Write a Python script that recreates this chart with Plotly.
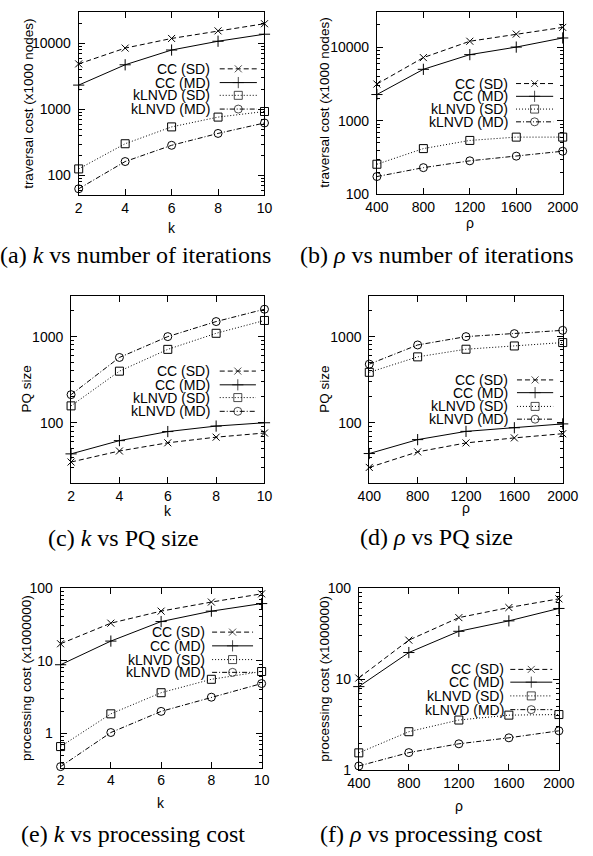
import math
import plotly.graph_objects as go

W, H = 593, 856

# ---------------- data ----------------
k_vals = [2, 4, 6, 8, 10]
rho_vals = [400, 800, 1200, 1600, 2000]
series_names = ["CC (SD)", "CC (MD)", "kLNVD (SD)", "kLNVD (MD)"]

# (a) k vs traversal cost (x1000 nodes)
a_cc_sd = [4900, 8500, 11900, 15500, 19900]
a_cc_md = [2340, 4750, 7950, 10800, 13800]
a_kl_sd = [126, 303, 545, 767, 933]
a_kl_md = [63, 163, 287, 434, 625]
# (b) rho vs traversal cost
b_cc_sd = [3150, 7200, 12000, 15000, 18500]
b_cc_md = [2270, 4990, 7900, 10000, 13300]
b_kl_sd = [257, 419, 541, 600, 600]
b_kl_md = [175, 231, 286, 331, 386]
# (c) k vs PQ size
c_cc_sd = [35, 47, 58.5, 68, 76]
c_cc_md = [43.5, 62, 79, 91.5, 100]
c_kl_sd = [157, 397, 711, 1093, 1540]
c_kl_md = [212, 573, 1000, 1496, 2080]
# (d) rho vs PQ size
d_cc_sd = [30.3, 45.9, 58.3, 66.7, 74.6]
d_cc_md = [43.9, 63.7, 79.4, 87.5, 97]
d_kl_sd = [385, 582, 714, 779, 853]
d_kl_md = [479, 800, 1000, 1083, 1183]
# (e) k vs processing cost (x1000000)
e_cc_sd = [17.1, 32.8, 48, 64, 83]
e_cc_md = [8.8, 18.6, 34.5, 48, 61]
e_kl_sd = [0.66, 1.86, 3.63, 5.55, 7.1]
e_kl_md = [0.35, 1.03, 2.01, 3.15, 4.85]
# (f) rho vs processing cost
f_cc_sd = [10.3, 26.8, 47.3, 61, 76]
f_cc_md = [8.3, 19.6, 33.5, 43.6, 59.6]
f_kl_sd = [1.56, 2.66, 3.57, 4.04, 4.1]
f_kl_md = [1.12, 1.57, 1.96, 2.28, 2.72]

y_tick_a = [100, 1000, 10000]
y_tick_c = [100, 1000]
y_tick_e = [1, 10, 100]

# ---------------- styles ----------------
styles = [
    dict(dash="5px,3px", symbol="x-thin", size=7),
    dict(dash="solid", symbol="cross-thin", size=8),
    dict(dash="1px,2px", symbol="square-open", size=8),
    dict(dash="5px,2px,1px,2px", symbol="circle-open", size=8),
]
SANS = "Liberation Sans"
SERIF = "Liberation Serif"
FS = 14

panels = [
    dict(x=k_vals, ys=[a_cc_sd, a_cc_md, a_kl_sd, a_kl_md], frame=(70, 265, 4, 191),
         yr=(50, 30000), yt=y_tick_a, ytitle="traversal cost (x1000 nodes)", xtitle="k",
         ytx=17, xty=224, key=(210, [62, 76, 89, 103], 218, 257),
         cap="(a) <i>k</i> vs number of iterations", capx=130, capy=252),
    dict(x=rho_vals, ys=[b_cc_sd, b_cc_md, b_kl_sd, b_kl_md], frame=(383, 578, 4, 190),
         yr=(100, 30000), yt=y_tick_a, ytitle="traversal cost (x1000 nodes)", xtitle="ρ",
         ytx=328, xty=219, key=(523, [77, 90, 103, 116], 529, 568),
         cap="(b) <i>ρ</i> vs number of iterations", capx=446, capy=252),
    dict(x=k_vals, ys=[c_cc_sd, c_cc_md, c_kl_sd, c_kl_md], frame=(62, 265, 293, 484),
         yr=(20, 3000), yt=y_tick_c, ytitle="PQ size", xtitle="k",
         ytx=15, xty=513, key=(210, [370, 384, 397, 411], 218, 256),
         cap="(c) <i>k</i> vs PQ size", capx=117, capy=540),
    dict(x=rho_vals, ys=[d_cc_sd, d_cc_md, d_kl_sd, d_kl_md], frame=(375, 578, 293, 484),
         yr=(20, 3000), yt=y_tick_c, ytitle="PQ size", xtitle="ρ",
         ytx=328, xty=510, key=(523, [379, 392, 406, 419], 530, 568),
         cap="(d) <i>ρ</i> vs PQ size", capx=446, capy=539),
    dict(x=k_vals, ys=[e_cc_sd, e_cc_md, e_kl_sd, e_kl_md], frame=(51, 262, 591, 774),
         yr=(0.34, 100), yt=y_tick_e, ytitle="processing cost (x1000000)", xtitle="k",
         ytx=15, xty=810, key=(205, [636, 650, 664, 677], 210, 253),
         cap="(e) <i>k</i> vs processing cost", capx=127, capy=842),
    dict(x=rho_vals, ys=[f_cc_sd, f_cc_md, f_kl_sd, f_kl_md], frame=(364, 574, 591, 777),
         yr=(1, 100), yt=y_tick_e, ytitle="processing cost (x1000000)", xtitle="ρ",
         ytx=328, xty=813, key=(519, [674, 687, 701, 715], 523, 567),
         cap="(f) <i>ρ</i> vs processing cost", capx=440, capy=842),
]

fig = go.Figure()
layout = dict(width=W, height=H, margin=dict(l=0, r=0, t=0, b=0, pad=0),
              paper_bgcolor="white", plot_bgcolor="rgba(0,0,0,0)", showlegend=False,
              annotations=[])

def minor_vals(lo, hi):
    out = []
    for d in range(int(math.floor(math.log10(lo))) - 1, int(math.ceil(math.log10(hi))) + 1):
        for m in range(2, 10):
            v = m * 10 ** d
            if lo <= v <= hi:
                out.append(v)
    return out

for i, p in enumerate(panels):
    n = "" if i == 0 else str(i + 1)
    x0, x1, y0, y1 = p["frame"]
    layout["xaxis" + n] = dict(
        domain=[x0 / W, x1 / W], anchor="y" + n, range=[p["x"][0], p["x"][-1]],
        tickvals=p["x"], ticks="inside", ticklen=6, tickcolor="black",
        showline=True, linecolor="black", linewidth=1, mirror="allticks",
        showgrid=False, zeroline=False, ticklabelstandoff=0,
        tickfont=dict(family=SANS, size=FS, color="black"))
    layout["yaxis" + n] = dict(
        domain=[1 - y1 / H, 1 - y0 / H], anchor="x" + n, type="log",
        range=[math.log10(p["yr"][0]), math.log10(p["yr"][1])],
        tickvals=p["yt"], ticktext=[str(v) for v in p["yt"]],
        ticks="inside", ticklen=6, tickcolor="black",
        minor=dict(ticks="inside", ticklen=3, tickcolor="black",
                   tickvals=minor_vals(*p["yr"]), showgrid=False),
        showline=True, linecolor="black", linewidth=1, mirror="allticks",
        showgrid=False, zeroline=False, ticklabelstandoff=4,
        tickfont=dict(family=SANS, size=FS, color="black"))
    for s, (name, ys) in enumerate(zip(series_names, p["ys"])):
        st = styles[s]
        fig.add_trace(go.Scatter(
            x=p["x"], y=ys, name=name, xaxis="x" + n, yaxis="y" + n,
            mode="lines+markers", cliponaxis=False,
            line=dict(color="black", width=1, dash=st["dash"]),
            marker=dict(symbol=st["symbol"], size=st["size"], color="black",
                        line=dict(color="black", width=1))))
    # key (drawn on pixel overlay axis)
    kx, rows, sx0, sx1 = p["key"]
    for s, name in enumerate(series_names):
        st = styles[s]
        yy = rows[s]
        fig.add_trace(go.Scatter(
            x=[sx0, (sx0 + sx1) / 2, sx1], y=[yy, yy, yy], xaxis="x7", yaxis="y7",
            mode="lines+markers", cliponaxis=False, hoverinfo="skip",
            line=dict(color="black", width=1, dash=st["dash"]),
            marker=dict(symbol=st["symbol"], size=[0, st["size"], 0], color="black",
                        line=dict(color="black", width=1))))
        layout["annotations"].append(dict(
            text=name, x=kx / W, y=1 - yy / H, xref="paper", yref="paper",
            xanchor="right", yanchor="middle", showarrow=False,
            font=dict(family=SANS, size=FS, color="black")))
    # axis titles
    layout["annotations"].append(dict(
        text=p["ytitle"], x=p["ytx"] / W, y=1 - (y0 + y1) / 2 / H, xref="paper", yref="paper",
        xanchor="center", yanchor="middle", textangle=-90, showarrow=False,
        font=dict(family=SANS, size=13.5, color="black")))
    layout["annotations"].append(dict(
        text=p["xtitle"], x=(x0 + x1) / 2 / W, y=1 - p["xty"] / H, xref="paper", yref="paper",
        xanchor="center", yanchor="middle", showarrow=False,
        font=dict(family=SANS, size=FS, color="black")))
    layout["annotations"].append(dict(
        text=p["cap"], x=p["capx"] / W, y=1 - p["capy"] / H, xref="paper", yref="paper",
        xanchor="center", yanchor="middle", showarrow=False,
        font=dict(family=SERIF, size=24, color="black")))

layout["xaxis7"] = dict(domain=[0, 1], range=[0, W], visible=False, anchor="y7", fixedrange=True)
layout["yaxis7"] = dict(domain=[0, 1], range=[H, 0], visible=False, anchor="x7", fixedrange=True)

fig.update_layout(**layout)
fig.write_html("out.html", config={"displayModeBar": False},
               post_script="document.body.style.margin='0';")
